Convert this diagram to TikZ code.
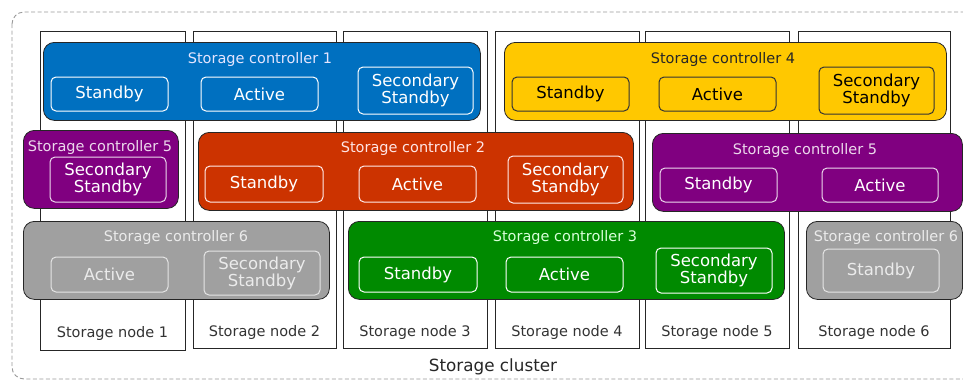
\documentclass[tikz,border=0pt]{standalone}
\usepackage{fontspec}
\setmainfont{DejaVu Sans}
\newcommand\fRole{\fontsize{16.5}{17}\selectfont}
\newcommand\fTitle{\fontsize{14.5}{16}\selectfont}
\newcommand\fNode{\fontsize{14.5}{16}\selectfont}
\newcommand\fCluster{\fontsize{16.8}{18}\selectfont}
\definecolor{cblue}{RGB}{0,112,192}
\definecolor{cyellow}{RGB}{255,200,0}
\definecolor{cred}{RGB}{204,51,0}
\definecolor{cpurple}{RGB}{128,0,128}
\definecolor{cgreen}{RGB}{0,138,0}
\definecolor{cgray}{RGB}{160,160,160}
\tikzset{
  nodebox/.style={draw=black!85, line width=0.8pt, anchor=north west, inner sep=0pt},
  nodelbl/.style={font=\fNode, text=black!80, inner sep=0pt},
  ctrl/.style={draw=black!85, line width=0.8pt, rounded corners=11pt, anchor=north west, inner sep=0pt},
  ttl/.style={font=\fTitle, inner sep=0pt},
  role/.style={line width=1pt, rounded corners=5pt, inner sep=0pt, align=center, font=\fRole},
}
\begin{document}
\begin{tikzpicture}[x=1pt,y=-1pt]
\useasboundingbox (0,0) rectangle (963,381);
% cluster
\draw[black!40, dash pattern=on 4pt off 2.5pt, line width=0.9pt, rounded corners=12pt] (12,12) rectangle (990,379);
\node[font=\fCluster, text=black!85, inner sep=0pt] (cl) at (493,367) {Storage cluster};
% storage nodes
\node[nodebox, minimum width=145pt, minimum height=319pt] (sn1) at (40,31) {};
\node[nodebox, minimum width=143pt, minimum height=317pt] (sn2) at (193,31) {};
\node[nodebox, minimum width=144pt, minimum height=317pt] (sn3) at (343,31) {};
\node[nodebox, minimum width=144pt, minimum height=317pt] (sn4) at (495,31) {};
\node[nodebox, minimum width=144pt, minimum height=317pt] (sn5) at (645,31) {};
\node[nodebox, minimum width=152pt, minimum height=317pt] (sn6) at (798,31) {};
\node[nodelbl] (sl1) at (112.5,333) {Storage node 1};
\node[nodelbl] (sl2) at (264.5,332) {Storage node 2};
\node[nodelbl] (sl3) at (415,332) {Storage node 3};
\node[nodelbl] (sl4) at (567,332) {Storage node 4};
\node[nodelbl] (sl5) at (717,332) {Storage node 5};
\node[nodelbl] (sl6) at (874,332) {Storage node 6};
% controller 1
\node[ctrl, fill=cblue, minimum width=437pt, minimum height=78pt] (c1) at (43,42) {};
\node[ttl, text=blue!10] (c1t) at (260,59) {Storage controller 1};
\node[role, draw=white, text=white, minimum width=117pt, minimum height=34pt] (c1a) at (109.5,94) {Standby};
\node[role, draw=white, text=white, minimum width=117pt, minimum height=34pt] (c1b) at (259.5,94) {Active};
\node[role, draw=white, text=white, minimum width=115pt, minimum height=47pt] (c1c) at (415.5,90.5) {Secondary\\Standby};
% controller 4
\node[ctrl, fill=cyellow, minimum width=442pt, minimum height=78pt] (c4) at (504,42) {};
\node[ttl, text=black!85] (c4t) at (723,59) {Storage controller 4};
\node[role, draw=black!80, text=black, minimum width=117pt, minimum height=34pt] (c4a) at (570.5,94) {Standby};
\node[role, draw=black!80, text=black, minimum width=117pt, minimum height=34pt] (c4b) at (717.5,94) {Active};
\node[role, draw=black!80, text=black, minimum width=115pt, minimum height=47pt] (c4c) at (876.5,90.5) {Secondary\\Standby};
% controller 5 (left)
\node[ctrl, fill=cpurple, minimum width=155pt, minimum height=78pt] (c5l) at (23,130) {};
\node[ttl, text=violet!15] (c5lt) at (100,147) {Storage controller 5};
\node[role, draw=violet!15, text=white, minimum width=116pt, minimum height=45pt] (c5la) at (108,179.5) {Secondary\\Standby};
% controller 2
\node[ctrl, fill=cred, minimum width=435pt, minimum height=78pt] (c2) at (198,132) {};
\node[ttl, text=red!10] (c2t) at (413,148) {Storage controller 2};
\node[role, draw=red!8, text=white, minimum width=118pt, minimum height=36pt] (c2a) at (264,184) {Standby};
\node[role, draw=red!8, text=white, minimum width=117pt, minimum height=36pt] (c2b) at (417.5,184) {Active};
\node[role, draw=red!8, text=white, minimum width=115pt, minimum height=47pt] (c2c) at (565.5,179.5) {Secondary\\Standby};
% controller 5 (right)
\node[ctrl, fill=cpurple, minimum width=310pt, minimum height=78pt] (c5r) at (652,133) {};
\node[ttl, text=violet!15] (c5rt) at (805,150) {Storage controller 5};
\node[role, draw=violet!15, text=white, minimum width=117pt, minimum height=34pt] (c5ra) at (718.5,185) {Standby};
\node[role, draw=violet!15, text=white, minimum width=116pt, minimum height=34pt] (c5rb) at (880,185) {Active};
% controller 6 (left)
\node[ctrl, fill=cgray, minimum width=306pt, minimum height=78pt] (c6l) at (23,221) {};
\node[ttl, text=black!8] (c6lt) at (176,237) {Storage controller 6};
\node[role, draw=black!10, text=black!8, minimum width=117pt, minimum height=35pt] (c6la) at (109.5,274.5) {Active};
\node[role, draw=black!10, text=black!8, minimum width=116pt, minimum height=44pt] (c6lb) at (262,273) {Secondary\\Standby};
% controller 3
\node[ctrl, fill=cgreen, minimum width=436pt, minimum height=78pt] (c3) at (348,221) {};
\node[ttl, text=green!15] (c3t) at (565,237) {Storage controller 3};
\node[role, draw=white, text=white, minimum width=118pt, minimum height=35pt] (c3a) at (418,274.5) {Standby};
\node[role, draw=white, text=white, minimum width=117pt, minimum height=35pt] (c3b) at (564.5,274.5) {Active};
\node[role, draw=white, text=white, minimum width=116pt, minimum height=45pt] (c3c) at (714,270.5) {Secondary\\Standby};
% controller 6 (right)
\node[ctrl, fill=cgray, minimum width=156pt, minimum height=78pt] (c6r) at (806,221) {};
\node[ttl, text=black!8] (c6rt) at (886,237) {Storage controller 6};
\node[role, draw=black!10, text=black!8, minimum width=116pt, minimum height=43pt] (c6ra) at (881,270.5) {Standby};
\end{tikzpicture}
\end{document}
